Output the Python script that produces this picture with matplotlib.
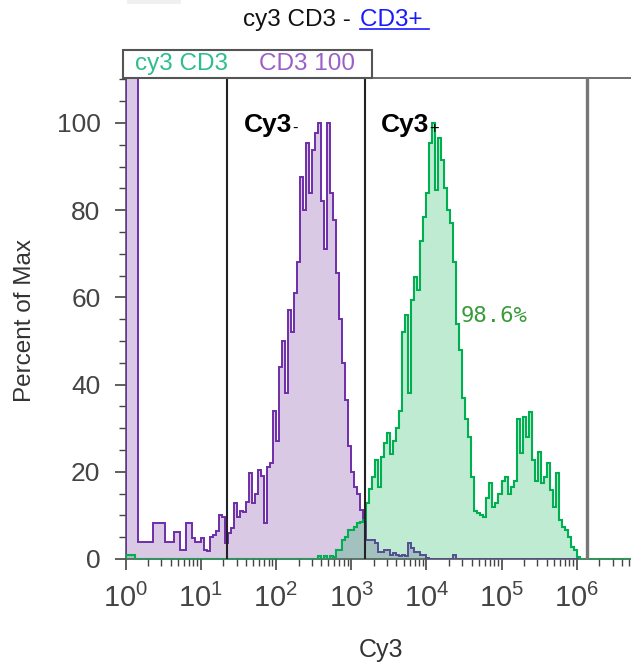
import numpy as np
import matplotlib
matplotlib.use("Agg")
import matplotlib.pyplot as plt
from matplotlib.patches import Rectangle
from matplotlib.lines import Line2D
from matplotlib.ticker import FixedLocator, LogLocator, NullFormatter

plt.rcParams['font.family'] = ['Liberation Sans', 'DejaVu Sans']
plt.rcParams['mathtext.fontset'] = 'custom'
plt.rcParams['mathtext.rm'] = 'Liberation Sans'

# histogram bins: log10 start and width of one bin (decades)
BIN_START = 0.0
BIN_STEP = 0.04
N_BINS = 170

# CD3 100 (unstained control), percent of max per bin
cd3_100 = [200, 200, 200, 200, 4.0, 4.0, 4.0, 4.0, 4.0, 8.2,
           8.2, 8.2, 8.2, 4.0, 4.0, 4.0, 6.2, 6.2, 2.0, 2.0,
           8.2, 8.2, 4.8, 4.0, 4.0, 4.8, 2.0, 1.8, 5.0, 5.5,
           6.4, 10.0, 9.7, 3.7, 6.0, 7.0, 12.8, 9.6, 11.0, 10.8,
           13.0, 19.7, 12.8, 15.0, 20.4, 19.0, 8.2, 21.0, 22.0, 34.0,
           27.0, 44.0, 50.0, 38.0, 57.0, 52.0, 61.0, 68.0, 87.6, 80.0,
           95.4, 84.0, 93.8, 97.7, 100.0, 82.0, 71.0, 100.0, 84.0, 77.7,
           65.6, 55.0, 45.0, 36.5, 26.0, 20.0, 16.5, 15.0, 11.2, 9.0,
           4.4, 4.4, 4.4, 3.7, 1.6, 1.6, 2.0, 2.0, 1.0, 1.4,
           1.0, 0.8, 1.0, 0.6, 3.7, 2.5, 1.6, 1.6, 1.0, 1.0,
           0.3, 0, 0, 0, 0, 0, 0, 0, 0, 1.0]

# cy3 CD3 (stained sample)
cy3_cd3 = [1.0, 1.0, 1.0, 0, 0, 0, 0, 0, 0, 0,
           0, 0, 0, 0, 0, 0, 0, 0, 0, 0,
           0, 0, 0, 0, 0, 0, 0, 0, 0, 0,
           0, 0, 0, 0, 0, 0, 0, 0, 0, 0,
           0, 0, 0, 0, 0, 0, 0, 0, 0, 0,
           0, 0, 0, 0, 0, 0, 0, 0, 0, 0,
           0, 0, 0, 0, 0.8, 0, 0.7, 0, 0.8, 0.5,
           2.0, 2.0, 4.4, 5.0, 6.6, 6.6, 7.3, 8.2, 8.5, 9.0,
           12.8, 16.0, 18.8, 22.7, 16.5, 23.4, 26.6, 29.0, 24.0, 27.0,
           30.0, 34.0, 52.0, 56.0, 38.0, 59.4, 64.7, 61.7, 73.0, 78.5,
           84.0, 95.4, 100.0, 84.6, 96.5, 91.5, 85.0, 80.0, 77.0, 68.0,
           54.0, 48.0, 37.0, 32.0, 28.0, 18.8, 11.0, 10.5, 10.0, 9.6,
           14.0, 17.4, 12.0, 12.8, 15.0, 18.0, 18.8, 15.0, 16.5, 18.0,
           32.0, 24.3, 32.6, 28.0, 33.7, 22.7, 18.0, 24.5, 17.4, 18.8,
           22.0, 15.8, 12.0, 19.7, 9.0, 7.3, 6.6, 5.0, 2.8, 2.0,
           0.5]

# gate boundaries (Cy3 values)
gates = [22.7, 1510, 1.39e6]
gate_labels = ["Cy3", "Cy3"]
gate_suffix = ["-", "+"]
pct_label = "98.6%"

x_ticks = [1, 10, 100, 1000, 1e4, 1e5, 1e6]
y_ticks = [0, 20, 40, 60, 80, 100]

edges = 10 ** (BIN_START + BIN_STEP * np.arange(N_BINS + 1))
purple = np.concatenate([cd3_100, np.zeros(N_BINS - len(cd3_100))])
green = np.concatenate([cy3_cd3, np.zeros(N_BINS - len(cy3_cd3))])

W, H = 631, 666
fig = plt.figure(figsize=(W / 100, H / 100), dpi=100)
ax = fig.add_axes([125.5 / W, 107 / H, (W - 125.5) / W, 481 / H])

# overlays
ax.stairs(purple, edges, fill=True, color='#dac9e5', zorder=2)
ax.stairs(purple, edges, color='#6f2da8', lw=1.4, zorder=3)
ax.stairs(green, edges, fill=True, color='#00b050', alpha=0.25, lw=0, zorder=4)
ax.stairs(green, edges, color='#00b050', lw=1.5, zorder=5)

for g in gates[:2]:
    ax.axvline(g, color='#222222', lw=1.5, zorder=6)
ax.axvline(gates[2], color='#777777', lw=2.4, zorder=6)

ax.set_xscale('log')
ax.set_xlim(1, 10 ** ((W - 125.5) / 75.2))
ax.set_ylim(0, 110.3)

ax.xaxis.set_major_locator(FixedLocator(x_ticks))
ax.set_xticklabels([r'$\mathregular{10^{%d}}$' % int(np.log10(v)) for v in x_ticks])
ax.xaxis.set_minor_locator(LogLocator(base=10, subs=np.arange(2, 10), numticks=20))
ax.xaxis.set_minor_formatter(NullFormatter())
ax.set_yticks(y_ticks)
ax.set_yticks(np.arange(0, 111, 5), minor=True)

ax.tick_params(axis='both', which='major', labelsize=19, labelcolor='#444444',
               color='#444444', width=1.2, length=8)
ax.tick_params(axis='x', which='major', labelsize=21, pad=10)
ax.tick_params(axis='y', which='major', pad=10)
ax.tick_params(axis='both', which='minor', color='#444444', width=1.0, length=5)

for s in ['left', 'bottom', 'top']:
    ax.spines[s].set_color('#555555')
    ax.spines[s].set_linewidth(1.2)
ax.spines['right'].set_visible(False)

fig.text(25 / W, 1 - 320 / H, "Percent of Max", rotation=90, ha='center', va='center',
         fontsize=17.5, color='#333333')
fig.text(381 / W, 1 - 650 / H, "Cy3", ha='center', va='center', fontsize=18, color='#333333')

# gate names
t1 = ax.text(10 ** 1.569, 99.5, gate_labels[0], fontsize=19, fontweight='bold', va='center')
t2 = ax.text(10 ** 3.39, 99.5, gate_labels[1], fontsize=19, fontweight='bold', va='center')
ax.text(10 ** 4.455, 55.7, pct_label, fontsize=16, color='#3a9a3a', va='center',
        family='DejaVu Sans Mono')

# title
ta = fig.text(358 / W, 1 - 20 / H, "cy3 CD3 - ", ha='right', va='center', fontsize=17.5, color='#111111')
tb = fig.text(360 / W, 1 - 20 / H, "CD3+ ", ha='left', va='center', fontsize=17.5, color='#1a1aff')

# legend box
fig.add_artist(Rectangle((123 / W, 1 - 78 / H), 249 / W, 28 / H, transform=fig.transFigure,
                         fill=False, ec='#555555', lw=1.5))
fig.text(135 / W, 1 - 64 / H, "cy3 CD3", ha='left', va='center', fontsize=17.5, color='#2dbf8a')
fig.text(259 / W, 1 - 64 / H, "CD3 100", ha='left', va='center', fontsize=17.5, color='#9a5fc8')

fig.add_artist(Rectangle((127 / W, 1 - 4 / H), 54 / W, 4 / H, transform=fig.transFigure,
                         color='#f0f0f0', lw=0))

fig.canvas.draw()
r = fig.canvas.get_renderer()
for t, suf in zip([t1, t2], gate_suffix):
    bb = t.get_window_extent(r)
    fig.text(bb.x1 / W, (bb.y0 + 0.35 * bb.height) / H, suf, fontsize=12, va='center', ha='left')
bb = tb.get_window_extent(r)
fig.add_artist(Line2D([bb.x0 / W, bb.x1 / W], [(bb.y0 + 2) / H] * 2, transform=fig.transFigure,
                      color='#1a1aff', lw=1.2))

fig.savefig("out.png", dpi=100)
